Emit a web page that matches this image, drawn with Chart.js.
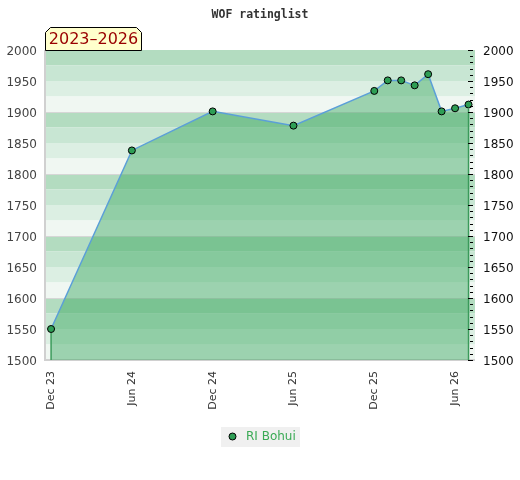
<!DOCTYPE html>
<html>
<head>
<meta charset="utf-8">
<script src="https://cdn.jsdelivr.net/npm/chart.js@4/dist/chart.umd.min.js"></script>
<style>
html,body{margin:0;padding:0;background:#fff;}
#wrap{width:520px;height:480px;}
</style>
</head>
<body>
<div id="wrap"><canvas id="c" width="520" height="480"></canvas></div>
<script>
// ---- data ----
const chartTitle = 'WOF ratinglist';
const periodLabel = '2023\u20132026';
const seriesName = 'RI Bohui';
// months counted from Dec 2023
const monthIndex = [0, 6, 12, 18, 24, 25, 26, 27, 28, 29, 30, 31];
const ratings = [1550, 1838, 1901, 1878, 1934, 1951, 1951, 1943, 1961, 1901, 1906, 1912];
const xTickValues = [0, 6, 12, 18, 24, 30];
const xTickLabels = ['Dec 23', 'Jun 24', 'Dec 24', 'Jun 25', 'Dec 25', 'Jun 26'];
const yTickValues = [1500, 1550, 1600, 1650, 1700, 1750, 1800, 1850, 1900, 1950, 2000];

const bandColors = ['#b3dcc0', '#c8e6d3', '#dcefe3', '#f0f7f2'];

const bgPlugin = {
  id: 'bands',
  beforeDraw(chart) {
    const {ctx, chartArea: a, scales: {y}} = chart;
    ctx.save();
    for (let v = 2000; v > 1500; v -= 25) {
      const idx = ((2000 - v) / 25) % 4;
      const top = y.getPixelForValue(v), bot = y.getPixelForValue(v - 25);
      ctx.fillStyle = bandColors[idx];
      ctx.fillRect(a.left, top, a.right - a.left, bot - top);
    }
    ctx.strokeStyle = '#d6d6d6';
    ctx.lineWidth = 1;
    for (let v = 1900; v > 1500; v -= 100) {
      const p = Math.round(y.getPixelForValue(v)) + 0.5;
      ctx.beginPath(); ctx.moveTo(a.left, p); ctx.lineTo(a.right, p); ctx.stroke();
    }
    ctx.strokeStyle = '#d0d0d0';
    ctx.lineWidth = 2;
    ctx.beginPath();
    ctx.moveTo(a.left, a.top); ctx.lineTo(a.left, a.bottom); ctx.lineTo(a.right, a.bottom);
    ctx.stroke();
    ctx.restore();
  },
  afterDatasetsDraw(chart) {
    const {ctx, scales: {x, y}} = chart;
    ctx.save();
    ctx.strokeStyle = '#3a9a5a';
    ctx.lineWidth = 1.5;
    const ends = [0, monthIndex.length - 1];
    ends.forEach(i => {
      const px = x.getPixelForValue(monthIndex[i]);
      ctx.beginPath();
      ctx.moveTo(px, y.getPixelForValue(ratings[i]) + 4);
      ctx.lineTo(px, y.getPixelForValue(1500));
      ctx.stroke();
    });
    ctx.restore();
  },
  afterDraw(chart) {
    const {ctx, chartArea: a, scales: {y}} = chart;
    ctx.save();
    // minor ticks on the right
    ctx.strokeStyle = '#000';
    ctx.lineWidth = 1;
    for (let v = 1500; v <= 2000; v += 10) {
      const p = Math.round(y.getPixelForValue(v)) + 0.5;
      const len = (v % 50 === 0) ? 5 : 3;
      ctx.beginPath(); ctx.moveTo(a.right - 2 - len, p); ctx.lineTo(a.right - 2, p); ctx.stroke();
    }
    // period label box
    ctx.beginPath();
    ctx.moveTo(45.5, 50.5);
    ctx.lineTo(45.5, 32.5);
    ctx.lineTo(50.5, 27.5);
    ctx.lineTo(136.5, 27.5);
    ctx.lineTo(141.5, 32.5);
    ctx.lineTo(141.5, 50.5);
    ctx.closePath();
    ctx.fillStyle = '#ffffcc';
    ctx.fill();
    ctx.strokeStyle = '#000';
    ctx.stroke();
    ctx.fillStyle = '#990000';
    ctx.font = '16px "DejaVu Sans"';
    ctx.textAlign = 'center';
    ctx.textBaseline = 'middle';
    ctx.fillText(periodLabel, 93.5, 40);
    // legend
    ctx.fillStyle = '#f0f0f0';
    ctx.fillRect(221, 427, 79, 20);
    ctx.beginPath();
    ctx.arc(232.5, 436.5, 3.5, 0, Math.PI * 2);
    ctx.fillStyle = '#2e9e55';
    ctx.fill();
    ctx.strokeStyle = '#000';
    ctx.stroke();
    ctx.fillStyle = '#3aaa55';
    ctx.font = '12px "DejaVu Sans"';
    ctx.textAlign = 'left';
    ctx.fillText(seriesName, 246, 437);
    ctx.restore();
  }
};

new Chart(document.getElementById('c'), {
  type: 'line',
  data: {
    datasets: [{
      label: seriesName,
      data: monthIndex.map((m, i) => ({x: m, y: ratings[i]})),
      borderColor: '#5b9fd8',
      borderWidth: 1.5,
      backgroundColor: 'rgba(46,162,85,0.43)',
      fill: 'start',
      tension: 0,
      pointRadius: 3.5,
      pointBackgroundColor: '#2e9e55',
      pointBorderColor: '#000',
      pointBorderWidth: 1
    }]
  },
  options: {
    responsive: false,
    animation: false,
    layout: {padding: 0},
    plugins: {
      legend: {display: false},
      tooltip: {enabled: false},
      title: {
        display: true,
        text: chartTitle,
        color: '#333',
        font: {family: '"DejaVu Sans Mono"', size: 11.5, weight: 'bold'},
        padding: {top: 8, bottom: 28.2}
      }
    },
    scales: {
      x: {
        type: 'linear',
        min: -0.45,
        max: 31.48,
        afterBuildTicks(s) { s.ticks = xTickValues.map(v => ({value: v})); },
        afterFit(s) { s.height = 120; },
        grid: {display: false, drawTicks: false},
        border: {display: false},
        ticks: {
          autoSkip: false,
          maxRotation: 90,
          minRotation: 90,
          padding: 11,
          color: '#333',
          font: {family: '"DejaVu Sans"', size: 11},
          callback: (v) => xTickLabels[xTickValues.indexOf(v)] ?? ''
        }
      },
      y: {
        position: 'left',
        min: 1500, max: 2000,
        afterBuildTicks(s) { s.ticks = yTickValues.map(v => ({value: v})); },
        afterFit(s) { s.width = 45; },
        grid: {display: false, drawTicks: false},
        border: {display: false},
        ticks: {padding: 8, labelOffset: 2, color: '#444', font: {family: '"DejaVu Sans"', size: 12}, callback: (v) => String(v)}
      },
      y2: {
        position: 'right',
        min: 1500, max: 2000,
        afterBuildTicks(s) { s.ticks = yTickValues.map(v => ({value: v})); },
        afterFit(s) { s.width = 45; },
        grid: {display: false, drawTicks: false},
        border: {display: false},
        ticks: {padding: 8, labelOffset: 2, color: '#111', font: {family: '"DejaVu Sans"', size: 12}, callback: (v) => String(v)}
      }
    }
  },
  plugins: [bgPlugin]
});
</script>
</body>
</html>
